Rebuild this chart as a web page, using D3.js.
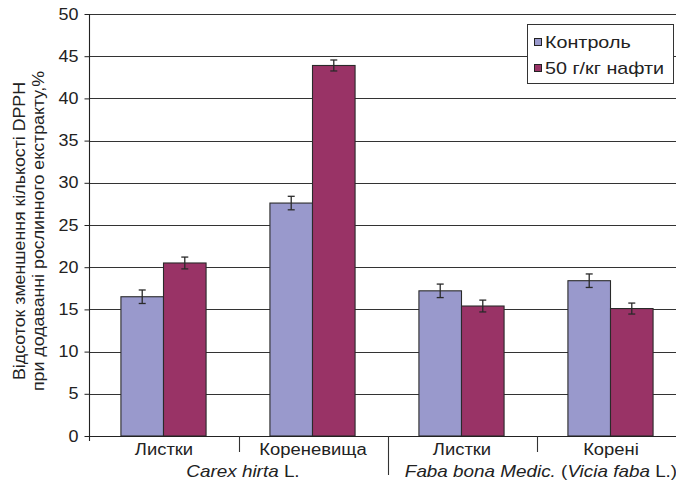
<!DOCTYPE html>
<html>
<head>
<meta charset="utf-8">
<script src="https://cdn.jsdelivr.net/npm/d3@7"></script>
<style>
  html, body { margin: 0; padding: 0; background: #fff; }
  svg { display: block; font-family: "Liberation Sans", Arial, sans-serif; }
</style>
</head>
<body>
<svg id="chart" width="676" height="484"></svg>
<script>
// Plant parts (first-level categories)
const categories = ["Листки", "Кореневища", "Листки", "Корені"];
// Species (second-level categories), each spans two plant parts; [text, italic]
const speciesLabels = [
  [["Carex hirta", true], [" L.", false]],
  [["Faba bona Medic.", true], [" (", false], ["Vicia faba", true], [" L.)", false]]
];
const speciesSpan = [2, 2];

const seriesNames = ["Контроль", "50 г/кг нафти"];
const controlValues = [16.5, 27.6, 17.2, 18.4];
const controlErrors = [0.8, 0.8, 0.8, 0.8];
const oilValues = [20.5, 43.9, 15.4, 15.1];
const oilErrors = [0.7, 0.65, 0.7, 0.65];
const yTicks = [0, 5, 10, 15, 20, 25, 30, 35, 40, 45, 50];

const colors = ["#9999cc", "#993366"];
const seriesValues = [controlValues, oilValues];
const seriesErrors = [controlErrors, oilErrors];

const svg = d3.select("#chart");
const plotLeft = 89, plotTop = 14, plotBottom = 436, catW = 149;
const plotRight = plotLeft + catW * categories.length;
const WIDE = 1.15; // horizontal widening of the label glyphs

// Widen a text element along its own baseline direction
function widen(sel, k) {
  sel.each(function () {
    const w = this.getComputedTextLength();
    d3.select(this).attr("textLength", w * k).attr("lengthAdjust", "spacingAndGlyphs");
  });
}

const y = d3.scaleLinear().domain([0, 50]).range([plotBottom, plotTop]);
const x = d3.scaleBand().domain(d3.range(categories.length)).range([plotLeft, plotRight]).padding(0);
const barW = catW / 3.5;
const x1 = d3.scaleBand().domain(d3.range(seriesNames.length))
  .range([(catW - 2 * barW) / 2, (catW + 2 * barW) / 2]).padding(0);

// Horizontal gridlines
svg.append("g").selectAll("line").data(yTicks.filter(t => t > 0)).join("line")
  .attr("x1", plotLeft).attr("x2", plotRight)
  .attr("y1", d => Math.round(y(d)) + 0.5).attr("y2", d => Math.round(y(d)) + 0.5)
  .attr("stroke", "#333").attr("stroke-width", 1.2);

// Bars
const bars = [];
categories.forEach((c, i) => {
  seriesNames.forEach((s, j) => {
    bars.push({ i, j, v: seriesValues[j][i], e: seriesErrors[j][i] });
  });
});
svg.append("g").selectAll("rect").data(bars).join("rect")
  .attr("x", d => x(d.i) + x1(d.j))
  .attr("width", x1.bandwidth())
  .attr("y", d => y(d.v))
  .attr("height", d => y(0) - y(d.v))
  .attr("fill", d => colors[d.j])
  .attr("stroke", "#2a2a2a").attr("stroke-width", 1.1);

// Error bars
const eg = svg.append("g").attr("stroke", "#2a2a2a").attr("stroke-width", 1.3);
bars.forEach(d => {
  const cx = x(d.i) + x1(d.j) + x1.bandwidth() / 2;
  eg.append("line").attr("x1", cx).attr("x2", cx).attr("y1", y(d.v + d.e)).attr("y2", y(d.v - d.e));
  eg.append("line").attr("x1", cx - 3.5).attr("x2", cx + 3.5).attr("y1", y(d.v + d.e)).attr("y2", y(d.v + d.e));
  eg.append("line").attr("x1", cx - 3.5).attr("x2", cx + 3.5).attr("y1", y(d.v - d.e)).attr("y2", y(d.v - d.e));
});

// Y axis
const yAxis = d3.axisLeft(y).tickValues(yTicks).tickSize(5).tickPadding(6).tickFormat(d3.format("d"));
const ya = svg.append("g").attr("transform", `translate(${plotLeft + 0.5},0)`).call(yAxis);
ya.select(".domain").attr("d", `M0,${plotTop}V${plotBottom + 5}`).attr("stroke", "#222").attr("stroke-width", 1.1);
ya.selectAll(".tick line").attr("stroke", "#222");
ya.selectAll(".tick text").attr("font-size", 16).attr("fill", "#222")
  .attr("font-family", "Liberation Sans, Arial, sans-serif");
widen(ya.selectAll(".tick text"), 1.12);

// X axis baseline
svg.append("line").attr("x1", plotLeft).attr("x2", plotRight)
  .attr("y1", plotBottom + 0.5).attr("y2", plotBottom + 0.5)
  .attr("stroke", "#222").attr("stroke-width", 1.1);

// Category dividers: short between parts, long between species
const speciesBounds = Array.from(d3.cumsum(speciesSpan));
d3.range(1, categories.length).forEach(k => {
  const long = speciesBounds.includes(k);
  const xx = Math.round(x(k)) + 1.5;
  svg.append("line").attr("x1", xx).attr("x2", xx)
    .attr("y1", plotBottom).attr("y2", long ? 475 : 452)
    .attr("stroke", "#333").attr("stroke-width", 1.1);
});

// Category labels
const catText = svg.append("g").selectAll("text").data(categories).join("text")
  .attr("x", (d, i) => x(i) + catW / 2 + 0.5).attr("y", 455)
  .attr("text-anchor", "middle").attr("font-size", 16).attr("fill", "#222")
  .text(d => d);
widen(catText, WIDE);

// Species labels (mixed italic runs, widened via a horizontal scale)
let startIdx = 0;
speciesLabels.forEach((parts, k) => {
  const span = speciesSpan[k];
  const cx = x(startIdx) + catW * span / 2 + 5;
  const g = svg.append("g").attr("transform", `translate(${cx},477) scale(${WIDE + 0.03},1)`);
  const t = g.append("text").attr("x", 0).attr("y", 0)
    .attr("text-anchor", "middle").attr("font-size", 16).attr("fill", "#222");
  parts.forEach(([txt, it]) => {
    t.append("tspan").attr("font-style", it ? "italic" : "normal").text(txt);
  });
  startIdx += span;
});

// Y axis title
const yt = svg.append("g").attr("transform", "translate(0,231) rotate(-90)");
const ytText = yt.selectAll("text")
  .data(["Відсоток зменшення кількості DPPH", "при додаванні рослинного екстракту,%"])
  .join("text")
  .attr("x", 0).attr("y", (d, k) => k === 0 ? 25 : 44)
  .attr("text-anchor", "middle").attr("font-size", 16).attr("fill", "#222").text(d => d);
widen(ytText, 1.11);

// Legend
const lg = svg.append("g").attr("transform", "translate(527,24)");
lg.append("rect").attr("x", 0.5).attr("y", 0.5).attr("width", 146).attr("height", 59)
  .attr("fill", "#fff").attr("stroke", "#333").attr("stroke-width", 1);
seriesNames.forEach((s, j) => {
  const yy = 14 + j * 26;
  lg.append("rect").attr("x", 7.5).attr("y", yy + 0.5).attr("width", 7).attr("height", 7)
    .attr("fill", colors[j]).attr("stroke", "#222").attr("stroke-width", 1);
  const lt = lg.append("text").attr("x", 18).attr("y", yy + 9.5)
    .attr("font-size", 17).attr("fill", "#222").text(s);
  widen(lt, 1.16);
});
</script>
</body>
</html>
